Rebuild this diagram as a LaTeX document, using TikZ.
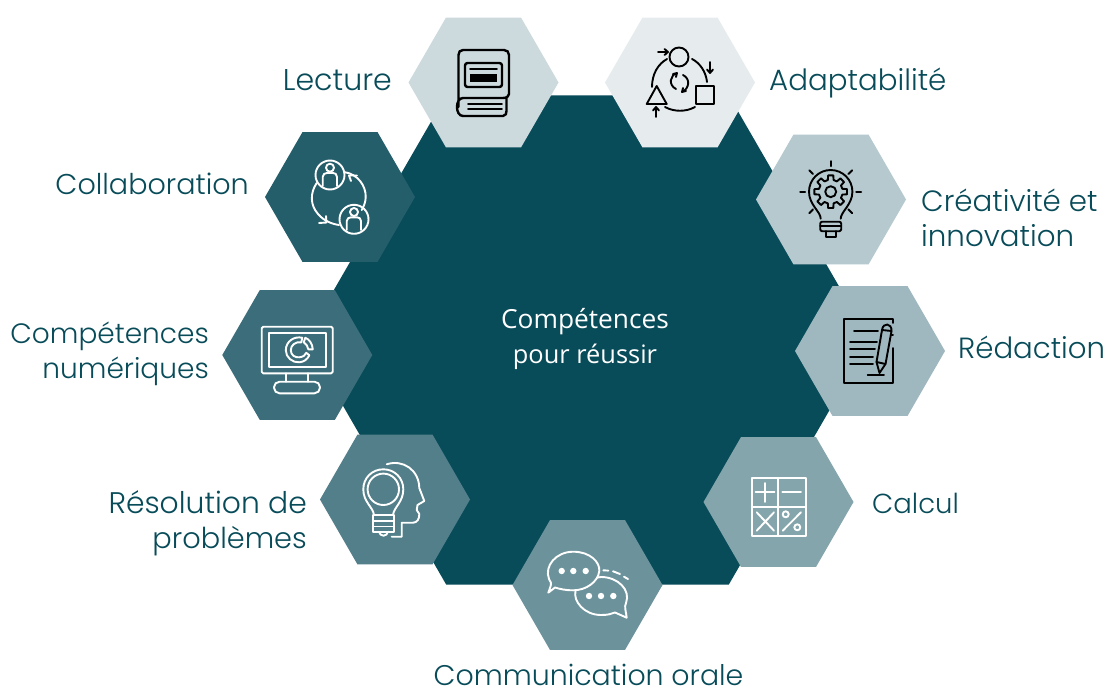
\documentclass[tikz,border=0pt]{standalone}
\usepackage{fontspec}
\setmainfont{Poppins}[UprightFont=* Light]
\newfontfamily\centrefont{Open Sans}
\usetikzlibrary{shapes.geometric}
\definecolor{deep}{HTML}{084B59}
\definecolor{hA}{HTML}{CCD9DD}
\definecolor{hB}{HTML}{E6ECEE}
\definecolor{hC}{HTML}{B5C9CF}
\definecolor{hD}{HTML}{9FB7BE}
\definecolor{hE}{HTML}{84A5AC}
\definecolor{hF}{HTML}{6C939C}
\definecolor{hG}{HTML}{527F8A}
\definecolor{hH}{HTML}{3B6E7A}
\definecolor{hI}{HTML}{245E6B}
\tikzset{
  hexa/.style={regular polygon,regular polygon sides=6,minimum size=150pt,inner sep=0pt,outer sep=0pt,fill=#1},
  lab/.style={text=deep,font=\fontsize{#1}{35}\selectfont,inner sep=0pt},
  ink/.style={draw=black,line width=1.9pt,line cap=round,line join=round},
  chalk/.style={draw=white,line width=1.9pt,line cap=round,line join=round},
}
\begin{document}
\begin{tikzpicture}[x=1pt,y=-1pt]
\useasboundingbox (0,0) rectangle (1107,690);
\fill[white] (0,0) rectangle (1107,690);
\node[regular polygon,regular polygon sides=6,minimum size=565pt,inner sep=0pt,outer sep=0pt,fill=deep] (core) at (587.5,340) {};
\node[hexa=hA] (lecture) at (483.5,82.5) {};
\node[hexa=hB] (adapt) at (680,82.5) {};
\node[hexa=hC] (crea) at (831,199.5) {};
\node[hexa=hD] (redac) at (870,351) {};
\node[hexa=hE] (calc) at (778.5,502) {};
\node[hexa=hF] (comm) at (587.5,585) {};
\node[hexa=hG] (resol) at (395,499.5) {};
\node[hexa=hH] (numer) at (297.3,355) {};
\node[hexa=hI] (collab) at (340,197) {};

\node[text=white,align=center,font=\centrefont\fontsize{26.3}{35}\selectfont,inner sep=0pt] (coretext) at (585,339) {Compétences\\\fontsize{25.4}{35}\selectfont pour réussir};
\node[lab=30,anchor=east] (tlecture) at (392,80) {Lecture};
\node[lab=29.3,anchor=west] (tadapt) at (769,83) {Adaptabilité};
\node[lab=29.3,anchor=west,align=left] (tcrea) at (921,218) {Créativité et\\innovation};
\node[lab=29.2,anchor=west] (tredac) at (958,347) {Rédaction};
\node[lab=27.5,anchor=west] (tcalc) at (872,503) {Calcul};
\node[lab=28.4,anchor=center] (tcomm) at (588.5,675) {Communication orale};
\node[lab=29.8,anchor=east,align=right] (tresol) at (307,523) {Résolution de\\\fontsize{28.8}{35}\selectfont problèmes};
\node[lab=28,anchor=east,align=right] (tnumer) at (209,354) {Compétences\\numériques};
\node[lab=28.6,anchor=east] (tcollab) at (249,184) {Collaboration};

% book
\draw[ink,line width=2.4pt] (463,116) .. controls (455,116) and (455,98) .. (463,98) -- (503,98) .. controls (507,98) and (509,96) .. (509,94) -- (509,55) .. controls (509,52) and (507,50) .. (504,50) -- (463,50) .. controls (460,50) and (458.5,52) .. (458.5,55) -- (458.5,107);
\draw[ink,line width=2.4pt] (463,116) -- (503,116) .. controls (506,116) and (506.5,113) .. (506.5,111) -- (506.5,98);
\draw[ink,line width=2.4pt,rounded corners=2.5pt] (465,63) rectangle (502,87);
\draw[ink] (470,69) -- (497,69);
\fill[black] (470,74) rectangle (497,82);
\draw[ink] (468,104) -- (502,104) (468,109) -- (502,109);

% adaptability
\draw[ink] (679,57) circle[radius=9.5];
\draw[ink] (696,86) rectangle (714,104);
\draw[ink] (656.7,86) -- (666.7,104) -- (646.7,104) -- cycle;
\draw[ink] (652,87) .. controls (652,74) and (658,64) .. (667,59);
\draw[ink] (692,59) .. controls (700,63) and (706,72) .. (707,82);
\draw[ink] (665,107) .. controls (674,112) and (686,112) .. (695,107);
\draw[ink] (658,52) -- (668,52) (664.5,49) -- (668,52) -- (664.5,55);
\draw[ink] (710,62) -- (710,73) (707,69.5) -- (710,73) -- (713,69.5);
\draw[ink] (656,117) -- (656,107) (653,110.5) -- (656,107) -- (659,110.5);
\draw[ink] (676,89) .. controls (668,85) and (670,75) .. (677,73) (673,74) -- (677,73) -- (676,77);
\draw[ink] (683,75) .. controls (691,79) and (689,89) .. (682,92) (686,91) -- (682,92) -- (683,88);

% creativity
\begin{scope}[shift={(830.7,191.7)}]
\draw[ink] (-10,27) .. controls (-10,20) and (-21.7,13) .. (-21.7,0) .. controls (-21.7,-12) and (-12,-21.7) .. (0,-21.7) .. controls (12,-21.7) and (21.7,-12) .. (21.7,0) .. controls (21.7,13) and (10,20) .. (10,27);
\draw[ink,rounded corners=2pt] (-10.5,30) rectangle (10.5,39.5);
\draw[ink] (-10.5,34.5) -- (10.5,34.5);
\draw[ink] (-5,39.5) -- (-5,45) -- (5,45) -- (5,39.5);
\draw[ink] (0,-30.5) -- (0,-25.5) (-30.5,0) -- (-25.5,0) (25.5,0) -- (30.5,0);
\draw[ink] (-21.5,-21.5) -- (-17.7,-17.7) (21.5,-21.5) -- (17.7,-17.7) (-21.5,21.5) -- (-17.7,17.7) (21.5,21.5) -- (17.7,17.7);
\draw[ink] (-14:12) \foreach \a in {0,45,...,315} { -- (\a-14:12) -- (\a-9:16.5) -- (\a+9:16.5) -- (\a+14:12) } -- cycle;
\draw[ink] (0,0) circle[radius=5.5];
\end{scope}

% writing
\draw[ink] (892.7,323) -- (892.7,319) -- (844,319) -- (844,383.3) -- (892.7,383.3) -- (892.7,348);
\draw[ink] (854,331) -- (878,331) (850,341.7) -- (877,341.7) (850,349) -- (875,349) (850,356.7) -- (873,356.7) (850,364) -- (873,364);
\draw[ink] (867.7,375) -- (884,375);
\draw[ink] (879.5,373) -- (876.5,362) -- (882,330) .. controls (883,322) and (892,323) .. (891.5,331) -- (885.5,364) -- cycle;
\draw[ink] (876.5,362) -- (885.5,364) (882,330) -- (891.5,331);
\draw[ink] (891.5,335) -- (893,335);

% collaboration
\draw[chalk] (330,175) circle[radius=14.5] (354,219.3) circle[radius=14.5];
\draw[chalk] (330,167.7) circle[radius=4] (354,212) circle[radius=4];
\draw[chalk] (322.7,186) -- (322.7,177) .. controls (322.7,174) and (325,173) .. (327,173) -- (333,173) .. controls (335,173) and (337,174) .. (337,177) -- (337,186);
\draw[chalk] (346.7,230) -- (346.7,221) .. controls (346.7,218.5) and (349,217.3) .. (351,217.3) -- (357,217.3) .. controls (359,217.3) and (361,218.5) .. (361,221) -- (361,230);
\draw[chalk] (344,172) .. controls (358,174) and (366,186) .. (365.7,197) .. controls (365.6,202) and (364,206) .. (361.7,210);
\draw[chalk] (316.7,183) .. controls (310,193) and (310,205) .. (318,214) .. controls (324,221) and (332,224) .. (339,225);
\draw[chalk] (351,181) -- (349,175.5) -- (357,175.5);
\draw[chalk] (326,216) -- (326.5,222.5) -- (319,223);

% digital
\draw[chalk,rounded corners=1.5pt] (261.7,326.7) rectangle (332.7,373.3);
\draw[chalk] (269,332.7) rectangle (325.7,367.3);
\draw[chalk] (286,373.3) -- (286,381.7) (308,373.3) -- (308,381.7);
\draw[chalk,rounded corners=5.5pt] (274,381.7) rectangle (320,393.3);
\begin{scope}[shift={(298.3,349.3)}]
\draw[chalk] (4,-11.5) .. controls (-4,-13.5) and (-12.5,-8) .. (-12.5,1) .. controls (-12.5,8) and (-6,13.5) .. (1,13) .. controls (6,12.5) and (9,10) .. (11,6);
\draw[chalk] (3,-7) .. controls (-3,-8) and (-7.5,-4) .. (-7.5,1) .. controls (-7.5,6) and (-3,8.5) .. (1,8) .. controls (5,7.5) and (7,6) .. (8,3.5) -- (11,6);
\draw[chalk] (3,-7) -- (4,-11.5);
\draw[chalk] (7,-11.5) .. controls (11,-10) and (14,-6) .. (14.5,0) -- (10,0) .. controls (9.5,-3) and (8,-5.5) .. (5.5,-7) -- cycle;
\end{scope}

% problem solving
\draw[chalk] (383.3,489.3) circle[radius=15.7];
\draw[chalk] (374,515) .. controls (373,507) and (363.3,502) .. (363.3,489.3) .. controls (363.3,478) and (372,469.3) .. (383.3,469.3) .. controls (394.6,469.3) and (403.3,478) .. (403.3,489.3) .. controls (403.3,502) and (394,507) .. (393,515);
\draw[chalk] (373.3,515) -- (394,515) (373.3,515) -- (373.3,531.7) -- (394,531.7) -- (394,515);
\draw[chalk] (373.3,521) -- (394,521) (373.3,526.5) -- (394,526.5);
\draw[chalk] (379,531.7) .. controls (380,537) and (387,537) .. (388,531.7);
\draw[chalk] (386.7,464.3) .. controls (403,459) and (419,470) .. (419.3,488) -- (424.3,501) -- (417.5,505) -- (416.7,510) -- (419.3,514) .. controls (419.5,519) and (417,522.7) .. (413,522.7) -- (401.7,522.7) -- (401.7,536.7) -- (391.7,536.7);

% speech
\draw[chalk,fill=hF] (548.3,592.7) .. controls (550,587) and (553,584) .. (549,579) .. controls (544,566) and (556,551.7) .. (573.3,551.7) .. controls (590,551.7) and (600,562) .. (599.3,571) .. controls (598,582) and (586,590.3) .. (573.3,590.3) .. controls (565,590.3) and (560,589) .. (555,587.5) -- cycle;
\draw[chalk] (575.5,591) .. controls (573,601) and (584,615) .. (601,615) .. controls (608,615) and (611,614) .. (615,612.5) -- (626.7,617.7) .. controls (626,611) and (624,607) .. (626,603) .. controls (631,590) and (618,577) .. (601,577) .. controls (600,577) and (599,577) .. (597.5,577.5);
\fill[white] (561.7,571) circle[radius=3.2] (573.3,571) circle[radius=3.2] (585.7,571) circle[radius=3.2];
\fill[white] (589,596) circle[radius=3.2] (601,596) circle[radius=3.2] (613.3,596) circle[radius=3.2];
\draw[chalk] (603.3,570.3) -- (608.3,570.6) (613,571.3) -- (620,574) (624,576.7) -- (628,579);

% arithmetic
\draw[chalk] (751.7,478.3) rectangle (805.7,535.7);
\draw[chalk] (778.3,478.3) -- (778.3,535.7) (751.7,506.7) -- (805.7,506.7);
\draw[chalk] (755.5,492.3) -- (774.5,492.3) (765,483) -- (765,502);
\draw[chalk] (782.3,492.3) -- (801,492.3);
\draw[chalk] (756.7,512.3) -- (774,530.7) (774,512.3) -- (756.7,530.7);
\draw[chalk] (782.7,530.7) -- (801,512.3);
\draw[chalk] (785.7,514.3) circle[radius=3] (797.3,527.3) circle[radius=3];
\end{tikzpicture}
\end{document}
